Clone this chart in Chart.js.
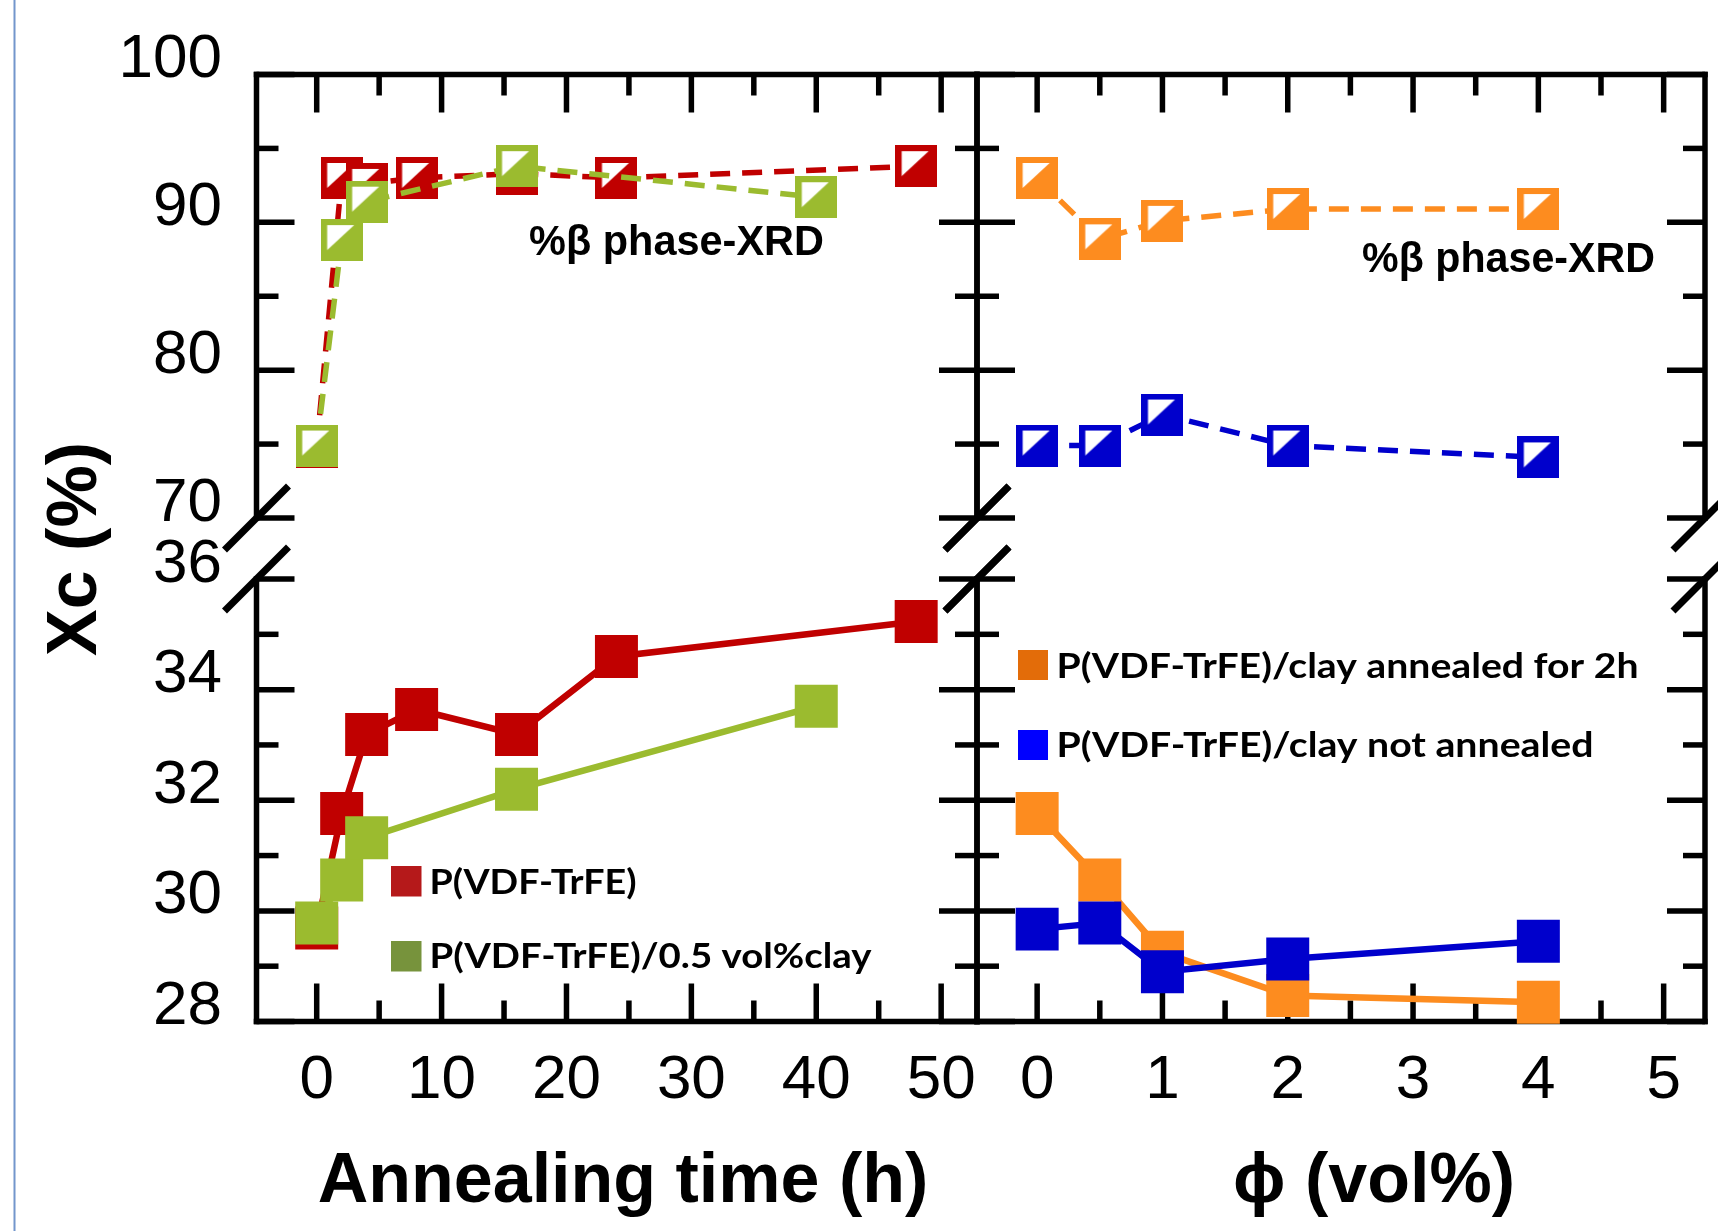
<!DOCTYPE html>
<html>
<head>
<meta charset="utf-8">
<title>Xc and beta phase vs annealing time and clay content</title>
<script src="https://cdn.jsdelivr.net/npm/chart.js@4.4.1/dist/chart.umd.min.js"></script>
<style>
  html, body { margin: 0; padding: 0; background: #ffffff; }
  #figure { position: relative; width: 1718px; height: 1231px; overflow: hidden; background: #ffffff; }
  #figure canvas { position: absolute; left: 0; top: 0; }
</style>
</head>
<body>
<div id="figure">
  <canvas id="topLeft" width="1718" height="1231"></canvas>
  <canvas id="topRight" width="1718" height="1231"></canvas>
  <canvas id="bottomLeft" width="1718" height="1231"></canvas>
  <canvas id="bottomRight" width="1718" height="1231"></canvas>
</div>
<script>
// ---- datos ----
const hoursPure = [0, 2, 4, 8, 16, 24, 48];
const hoursClay = [0, 2, 4, 16, 40];
const phiVol = [0, 0.5, 1, 2, 4];

// %beta (XRD), paneles superiores
const betaPure = [74.8, 93.0, 92.6, 93.0, 93.3, 93.0, 93.8];
const betaClay = [74.9, 88.8, 91.4, 93.8, 91.7];
const betaAnnealed = [93.0, 88.85, 90.1, 90.9, 90.9];
const betaNotAnnealed = [74.9, 74.9, 77.0, 74.9, 74.1];

// Xc (%), paneles inferiores
const xcPure = [29.69, 31.76, 33.19, 33.64, 33.19, 34.6, 35.23];
const xcClay = [29.78, 30.56, 31.32, 32.2, 33.7];
const xcAnnealed = [31.76, 30.56, 29.25, 28.47, 28.35];
const xcNotAnnealed = [29.67, 29.78, 28.9, 29.13, 29.45];

// ticks
const hourTicks = [0, 10, 20, 30, 40, 50];
const phiTicks = [0, 1, 2, 3, 4, 5];
const betaTicks = [70, 80, 90, 100];
const xcTicks = [28, 30, 32, 34, 36];

// textos
const legendLeft = ['P(VDF-TrFE)', 'P(VDF-TrFE)/0.5 vol%clay'];
const legendRight = ['P(VDF-TrFE)/clay annealed for 2h', 'P(VDF-TrFE)/clay not annealed'];
const xrdLabel = '%\u03B2 phase-XRD';
const yTitle = 'Xc (%)';
const xTitleLeft = 'Annealing time (h)';
const xTitleRight = '\u03D5 (vol%)';

// ---- estilo ----
const W = 1718, H = 1231;
const INK = '#000000';
const RED = '#C00000', GREEN = '#9BBB2F', ORANGE = '#FD8C1F', BLUE = '#0000CC';
const SWATCH_LEFT = ['#B5191A', '#77933C'];
const SWATCH_RIGHT = ['#E36C09', '#0000FF'];
const TICK_FONT = "62px 'Liberation Sans', Arial, sans-serif";
const TITLE_FONT = "bold 70px 'Liberation Sans', Arial, sans-serif";
const LEGEND_FONT = "bold 35px Lato, 'Open Sans', sans-serif";

const colLeft = { left: 256.5, right: 977 };
const colRight = { left: 977, right: 1705 };
const rowTop = { top: 74.5, bottom: 518 };
const rowBottom = { top: 579, bottom: 1021.5 };

function mids(ticks) {
    return ticks.slice(1).map((t, i) => (t + ticks[i]) / 2);
}

function xy(xs, ys) {
    return xs.map((x, i) => ({ x: x, y: ys[i] }));
}

// cuadrado medio relleno (marcador XRD)
function halfSquare(color) {
    const s = 42;
    const c = document.createElement('canvas');
    c.width = s;
    c.height = s;
    const g = c.getContext('2d');
    g.fillStyle = color;
    g.fillRect(0, 0, s, s);
    g.fillStyle = '#ffffff';
    g.beginPath();
    g.moveTo(6.5, 6);
    g.lineTo(33.5, 6);
    g.lineTo(6.5, 31);
    g.closePath();
    g.fill();
    return c;
}

function xrdSet(label, xs, ys, color) {
    return {
        label: label,
        data: xy(xs, ys),
        borderColor: color,
        backgroundColor: color,
        borderWidth: 5.5,
        borderDash: [20, 12],
        pointStyle: halfSquare(color),
        pointRadius: 21,
        pointHoverRadius: 21,
        tension: 0,
        fill: false,
        clip: false
    };
}

function xcSet(label, xs, ys, color) {
    return {
        label: label,
        data: xy(xs, ys),
        borderColor: color,
        backgroundColor: color,
        borderWidth: 6.5,
        pointStyle: 'rect',
        pointRadius: 30.4,
        pointHoverRadius: 30.4,
        pointBorderWidth: 0,
        pointBackgroundColor: color,
        tension: 0,
        fill: false,
        clip: false
    };
}

function drawText(ctx, t) {
    ctx.save();
    ctx.font = t.font;
    ctx.fillStyle = t.color || INK;
    ctx.textBaseline = 'alphabetic';
    ctx.textAlign = t.align || 'left';
    ctx.translate(t.x, t.y);
    if (t.rotate) ctx.rotate(t.rotate);
    if (t.width) {
        const w = ctx.measureText(t.text).width;
        ctx.scale(t.width / w, 1);
    }
    ctx.fillText(t.text, 0, 0);
    ctx.restore();
}

// configuración de marco/ejes por panel
const frames = {};

const panelFrame = {
    id: 'panelFrame',
    beforeDatasetsDraw(chart) {
        const o = frames[chart.canvas.id];
        if (!o) return;
        const ctx = chart.ctx;
        const a = chart.chartArea;
        const xs = chart.scales.x, ys = chart.scales.y;
        const line = (x1, y1, x2, y2) => {
            ctx.beginPath();
            ctx.moveTo(x1, y1);
            ctx.lineTo(x2, y2);
            ctx.stroke();
        };
        ctx.save();
        ctx.strokeStyle = INK;
        ctx.lineWidth = 5.5;
        ctx.lineCap = 'square';

        // bordes
        line(a.left, a.top, a.left, a.bottom);
        line(a.right, a.top, a.right, a.bottom);
        const edgeY = o.edge === 'top' ? a.top : a.bottom;
        line(a.left, edgeY, a.right, edgeY);

        ctx.lineCap = 'butt';
        // ticks y (hacia dentro en ambos lados)
        const yTicks = [[o.yMajor, 38], [mids(o.yMajor), 22]];
        yTicks.forEach(([vals, len]) => {
            vals.forEach(v => {
                const py = ys.getPixelForValue(v);
                if (py < a.top - 1 || py > a.bottom + 1) return;
                line(a.left, py, a.left + len, py);
                line(a.right, py, a.right - len, py);
            });
        });
        // ticks x
        const xTicks = [[o.xMajor, 38], [mids(o.xMajor), 21]];
        xTicks.forEach(([vals, len]) => {
            vals.forEach(v => {
                const px = xs.getPixelForValue(v);
                if (px < a.left || px > a.right) return;
                if (o.edge === 'top') line(px, a.top, px, a.top + len);
                else line(px, a.bottom, px, a.bottom - len);
            });
        });

        // marcas de corte del eje
        ctx.lineWidth = 7;
        const by = o.edge === 'top' ? a.bottom : a.top;
        [a.left, a.right].forEach(bx => line(bx - 32, by + 32, bx + 32, by - 32));

        // etiquetas de ticks
        if (o.xLabels) {
            o.xMajor.forEach(v => {
                drawText(ctx, { text: String(v), x: xs.getPixelForValue(v), y: 1098, font: TICK_FONT, align: 'center' });
            });
        }
        if (o.yLabels) {
            o.yMajor.forEach(v => {
                drawText(ctx, { text: String(v), x: 222, y: ys.getPixelForValue(v) + 2.5, font: TICK_FONT, align: 'right' });
            });
        }

        // línea azul del margen (artefacto de la diapositiva)
        if (o.margin) {
            ctx.strokeStyle = '#7396CC';
            ctx.lineWidth = 2;
            line(14.5, 0, 14.5, H);
        }

        (o.texts || []).forEach(t => drawText(ctx, t));

        // leyenda
        if (o.legend) {
            const L = o.legend;
            L.labels.forEach((txt, i) => {
                ctx.fillStyle = L.colors[i];
                ctx.fillRect(L.x, L.tops[i], L.size, L.size);
                drawText(ctx, { text: txt, x: L.textX, y: L.baselines[i], width: L.widths[i], font: LEGEND_FONT });
            });
        }
        ctx.restore();
    }
};

function makePanel(id, col, row, xRange, yRange, datasets) {
    return new Chart(document.getElementById(id), {
        type: 'line',
        data: { datasets: datasets },
        options: {
            responsive: false,
            animation: false,
            devicePixelRatio: 1,
            events: [],
            layout: {
                autoPadding: false,
                padding: { left: col.left, top: row.top, right: W - col.right, bottom: H - row.bottom }
            },
            plugins: { legend: { display: false }, tooltip: { enabled: false } },
            scales: {
                x: { type: 'linear', min: xRange[0], max: xRange[1], display: false },
                y: { type: 'linear', min: yRange[0], max: yRange[1], display: false }
            }
        },
        plugins: [panelFrame]
    });
}

const hourRange = [-4.82, 52.87];
const phiRange = [-0.48, 5.33];
const betaRange = [70, 100];
const xcRange = [28, 36];

frames.topLeft = {
    edge: 'top', xMajor: hourTicks, yMajor: betaTicks, yLabels: true, margin: true,
    texts: [{ text: xrdLabel, x: 529, y: 255, width: 295, font: "bold 42px 'Liberation Sans', Arial, sans-serif" }]
};
frames.topRight = {
    edge: 'top', xMajor: phiTicks, yMajor: betaTicks,
    texts: [{ text: xrdLabel, x: 1362, y: 272, width: 293, font: "bold 42px 'Liberation Sans', Arial, sans-serif" }]
};
frames.bottomLeft = {
    edge: 'bottom', xMajor: hourTicks, yMajor: xcTicks, xLabels: true, yLabels: true,
    texts: [
        { text: yTitle, x: 96, y: 549, rotate: -Math.PI / 2, align: 'center', font: TITLE_FONT },
        { text: xTitleLeft, x: 623, y: 1202, align: 'center', font: TITLE_FONT }
    ],
    legend: {
        labels: legendLeft, colors: SWATCH_LEFT, x: 391, size: 30.5, tops: [866, 941],
        textX: 429.5, baselines: [894, 968], widths: [207, 442]
    }
};
frames.bottomRight = {
    edge: 'bottom', xMajor: phiTicks, yMajor: xcTicks, xLabels: true,
    texts: [{ text: xTitleRight, x: 1374, y: 1202, align: 'center', font: TITLE_FONT }],
    legend: {
        labels: legendRight, colors: SWATCH_RIGHT, x: 1018, size: 30, tops: [650, 730],
        textX: 1056.5, baselines: [678, 757], widths: [582, 537]
    }
};

// el primer dataset se dibuja encima
makePanel('topLeft', colLeft, rowTop, hourRange, betaRange, [
    xrdSet('P(VDF-TrFE)/0.5 vol%clay', hoursClay, betaClay, GREEN),
    xrdSet('P(VDF-TrFE)', hoursPure, betaPure, RED)
]);
makePanel('topRight', colRight, rowTop, phiRange, betaRange, [
    xrdSet('not annealed', phiVol, betaNotAnnealed, BLUE),
    xrdSet('annealed for 2h', phiVol, betaAnnealed, ORANGE)
]);
makePanel('bottomLeft', colLeft, rowBottom, hourRange, xcRange, [
    xcSet('P(VDF-TrFE)/0.5 vol%clay', hoursClay, xcClay, GREEN),
    xcSet('P(VDF-TrFE)', hoursPure, xcPure, RED)
]);
makePanel('bottomRight', colRight, rowBottom, phiRange, xcRange, [
    xcSet('not annealed', phiVol, xcNotAnnealed, BLUE),
    xcSet('annealed for 2h', phiVol, xcAnnealed, ORANGE)
]);
</script>
</body>
</html>
